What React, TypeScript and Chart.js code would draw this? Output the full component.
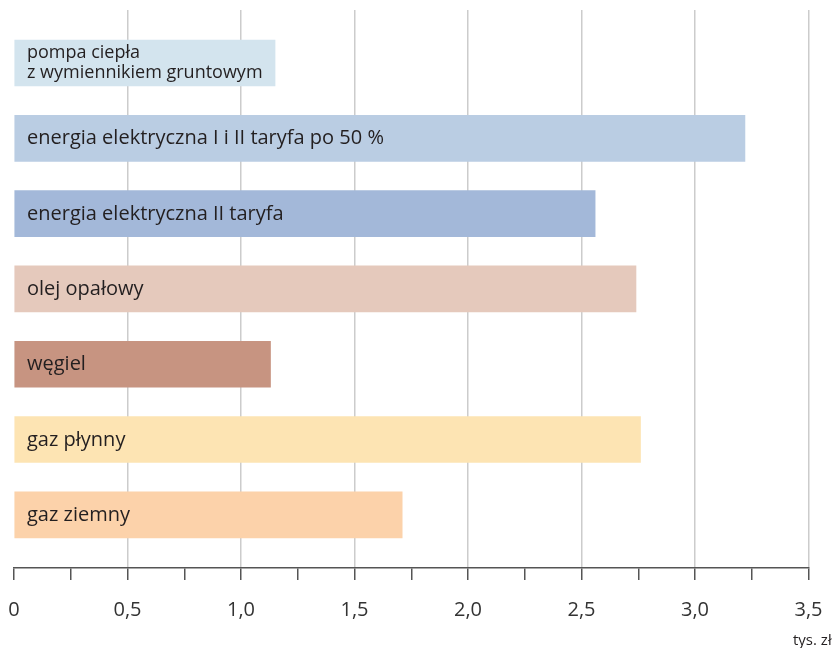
import { useEffect, useRef } from "react";
import { Chart, registerables } from "chart.js";

Chart.register(...registerables);

// Heating cost per system (thousand PLN)
const categories = [
  "pompa ciepła\nz wymiennikiem gruntowym",
  "energia elektryczna I i II taryfa po 50 %",
  "energia elektryczna II taryfa",
  "olej opałowy",
  "węgiel",
  "gaz płynny",
  "gaz ziemny",
];
const costs = [1.15, 3.22, 2.56, 2.74, 1.13, 2.76, 1.71];
const barColors = [
  "#d3e4ee",
  "#bacde3",
  "#a3b8d9",
  "#e5c9bc",
  "#c79481",
  "#fde4b3",
  "#fcd2aa",
];
const axisMax = 3.5;
const tickStep = 0.25;
const unitLabel = "tys. zł";

const FONT = '"Open Sans", "DejaVu Sans", sans-serif';

const isHalf = (v: number) => Math.abs(v * 2 - Math.round(v * 2)) < 1e-9;
const fmt = (v: number) => (v === 0 ? "0" : v.toFixed(1).replace(".", ","));

const barLabels = {
  id: "barLabels",
  afterDatasetsDraw(chart: any) {
    const { ctx, chartArea } = chart;
    const meta = chart.getDatasetMeta(0);
    ctx.save();
    ctx.fillStyle = "#231f20";
    ctx.textAlign = "left";
    ctx.textBaseline = "alphabetic";
    meta.data.forEach((bar: any, i: number) => {
      const lines = categories[i].split("\n");
      if (lines.length > 1) {
        ctx.font = `18px ${FONT}`;
        lines.forEach((line, j) => {
          const y = bar.y - 5 + j * 20;
          ctx.fillText(line, chartArea.left + 13, y);
        });
      } else {
        ctx.font = `20px ${FONT}`;
        ctx.fillText(lines[0], chartArea.left + 13, bar.y + 6);
      }
    });
    ctx.restore();
  },
  afterDraw(chart: any) {
    const { ctx } = chart;
    ctx.save();
    ctx.font = `15px ${FONT}`;
    ctx.fillStyle = "#231f20";
    ctx.textAlign = "left";
    ctx.textBaseline = "alphabetic";
    ctx.fillText(unitLabel, 793, 645);
    ctx.restore();
  },
};

export default function App() {
  const canvasRef = useRef<HTMLCanvasElement>(null);

  useEffect(() => {
    if (!canvasRef.current) return;
    const chart = new Chart(canvasRef.current, {
      type: "bar",
      data: {
        datasets: [
          {
            data: costs.map((v, i) => ({ x: v, y: i })),
            backgroundColor: barColors,
            borderWidth: 0,
            barThickness: 46,
          },
        ],
      },
      options: {
        indexAxis: "y",
        responsive: false,
        animation: false,
        layout: { padding: { left: 14, right: 24.5, top: 10, bottom: 26 } },
        plugins: {
          legend: { display: false },
          tooltip: { enabled: false },
        },
        scales: {
          x: {
            type: "linear",
            position: "bottom",
            min: 0,
            max: axisMax,
            afterFit: (scale: any) => {
              scale.paddingLeft = 0;
              scale.paddingRight = 0;
              scale.height = 54;
            },
            ticks: {
              stepSize: tickStep,
              autoSkip: false,
              maxRotation: 0,
              padding: 18,
              color: "#333333",
              font: { family: FONT, size: 20 },
              callback: (v: any) => (isHalf(Number(v)) ? fmt(Number(v)) : ""),
            },
            grid: {
              color: (ctx: any) =>
                ctx.tick && isHalf(ctx.tick.value) && ctx.tick.value !== 0
                  ? "#cccccc"
                  : "rgba(0,0,0,0)",
              lineWidth: 1.5,
              tickColor: "#555555",
              tickLength: 12,
              tickWidth: 1.5,
            },
            border: { color: "#555555", width: 1.5 },
          },
          y: {
            type: "linear",
            display: false,
            offset: false,
            reverse: true,
            min: -0.704,
            max: 6.706,
          },
        },
      } as any,
      plugins: [barLabels],
    });
    return () => chart.destroy();
  }, []);

  return (
    <div style={{ position: "absolute", left: 0, top: 0, width: 833, height: 648, background: "#ffffff" }}>
      <canvas ref={canvasRef} width={833} height={648} />
    </div>
  );
}
